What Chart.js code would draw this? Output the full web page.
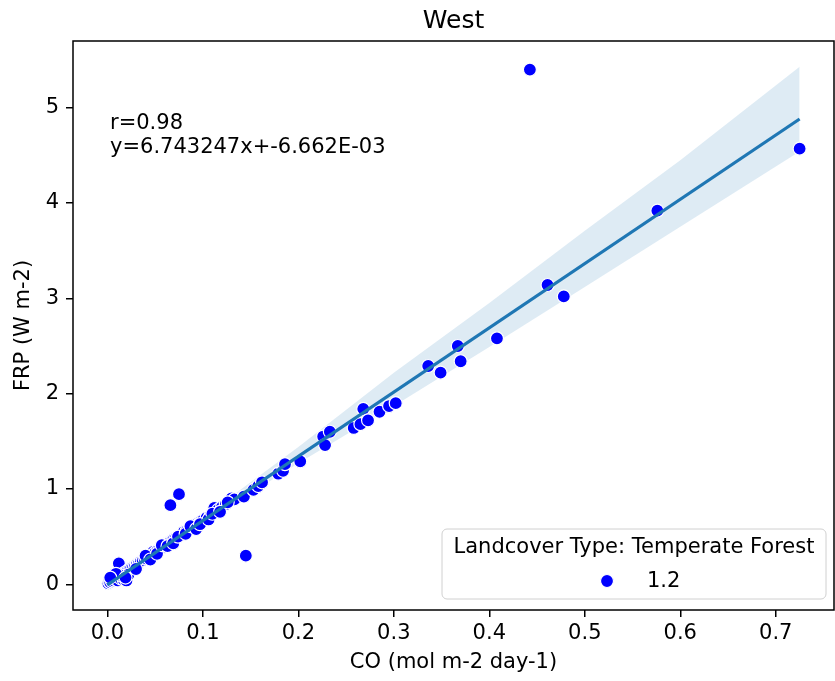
<!DOCTYPE html>
<html><head><meta charset="utf-8">
<script src="https://cdn.jsdelivr.net/npm/chart.js@4.4.1/dist/chart.umd.min.js"></script>
<style>html,body{margin:0;padding:0;background:#fff}#c{display:block}</style>
</head><body>
<canvas id="c" width="835" height="681"></canvas>
<script>
// ---- data ----
const pointsX = [0.001,0.002,0.003,0.004,0.005,0.006,0.007,0.008,0.009,0.010,0.011,0.012,0.013,0.014,
  0.016,0.017,0.018,0.020,0.021,0.023,0.025,0.027,0.029,
  0.031,0.033,0.035,0.037,0.039,0.041,0.043,0.046,0.048,0.050,
  0.053,0.055,0.058,0.060,0.062,0.064,0.066,0.068,0.070,0.072,
  0.075,0.078,0.080,0.083,0.086,0.088,0.090,0.092,0.095,0.098,0.100,
  0.104,0.108,0.112,0.112,0.116,0.120,0.124,0.128,0.130,0.133,
  0.015,0.022,0.030,0.040,0.045,0.052,0.057,0.063,0.069,0.074,0.082,0.087,0.093,0.097,0.106,0.110,0.118,0.126,0.009,0.003,0.019,
  0.143,0.153,0.158,0.162,0.179,0.184,0.186,0.202,0.226,0.228,0.233,0.258,0.265,0.268,0.273,0.285,
  0.295,0.302,0.336,0.349,0.367,0.370,0.408,0.4425,0.461,0.478,0.576,0.725,0.066,0.075,0.145];
const pointsY = [0.01,0.03,0.02,0.05,0.03,0.06,0.04,0.07,0.05,0.08,0.04,0.22,0.09,0.06,
  0.10,0.05,0.12,0.04,0.14,0.15,0.17,0.18,0.19,
  0.21,0.22,0.24,0.25,0.27,0.27,0.29,0.31,0.34,0.33,
  0.36,0.37,0.39,0.41,0.42,0.44,0.45,0.46,0.48,0.49,
  0.51,0.52,0.55,0.56,0.58,0.60,0.62,0.61,0.64,0.66,0.67,
  0.70,0.72,0.76,0.80,0.78,0.81,0.84,0.88,0.90,0.89,
  0.09,0.10,0.16,0.30,0.26,0.32,0.41,0.40,0.43,0.50,0.53,0.61,0.58,0.63,0.68,0.74,0.76,0.86,0.11,0.07,0.07,
  0.92,0.99,1.03,1.07,1.16,1.19,1.26,1.29,1.55,1.46,1.60,1.64,1.68,1.84,1.72,1.81,
  1.87,1.90,2.29,2.22,2.50,2.34,2.58,5.40,3.14,3.02,3.92,4.57,0.83,0.945,0.30];
const fitX = [0.0, 0.725];
const fitY = [-0.007, 4.882];
const bandX = [0.0, 0.1, 0.2, 0.3, 0.4, 0.5, 0.6, 0.725];
const bandUpper = [0.01, 0.70, 1.44, 2.22, 2.95, 3.71, 4.45, 5.43];
const bandLower = [-0.02, 0.64, 1.27, 1.87, 2.49, 3.12, 3.75, 4.54];
const xTicks = [0.0, 0.1, 0.2, 0.3, 0.4, 0.5, 0.6, 0.7];
const yTicks = [0, 1, 2, 3, 4, 5];
const titleText = 'West';
const xLabel = 'CO (mol m-2 day-1)';
const yLabel = 'FRP (W m-2)';
const annotLines = ['r=0.98', 'y=6.743247x+-6.662E-03'];
const legendTitle = 'Landcover Type: Temperate Forest';
const legendEntry = '1.2';

const zip = (xs, ys) => xs.map((x, i) => ({x, y: ys[i]}));

Chart.defaults.font.family = "'DejaVu Sans', sans-serif";
Chart.defaults.font.size = 21;
Chart.defaults.color = '#000';

const decor = {
  id: 'decor',
  afterDraw(chart) {
    const {ctx, chartArea: a} = chart;
    ctx.save();
    ctx.strokeStyle = '#000';
    ctx.lineWidth = 1.5;
    ctx.strokeRect(a.left, a.top, a.right - a.left, a.bottom - a.top);
    ctx.fillStyle = '#000';
    ctx.font = "25px 'DejaVu Sans'";
    ctx.textAlign = 'center';
    ctx.textBaseline = 'alphabetic';
    ctx.fillText(titleText, (a.left + a.right) / 2, 28);
    ctx.font = "21px 'DejaVu Sans'";
    ctx.textAlign = 'left';
    ctx.fillText(annotLines[0], a.left + 37, 129);
    ctx.fillText(annotLines[1], a.left + 37, 153);
    const lx = 442, ly = 529, lw = 384, lh = 70, r = 5;
    ctx.beginPath();
    ctx.moveTo(lx + r, ly);
    ctx.arcTo(lx + lw, ly, lx + lw, ly + lh, r);
    ctx.arcTo(lx + lw, ly + lh, lx, ly + lh, r);
    ctx.arcTo(lx, ly + lh, lx, ly, r);
    ctx.arcTo(lx, ly, lx + lw, ly, r);
    ctx.closePath();
    ctx.fillStyle = 'rgba(255,255,255,0.8)';
    ctx.fill();
    ctx.strokeStyle = '#d0d0d0';
    ctx.lineWidth = 1;
    ctx.stroke();
    ctx.fillStyle = '#000';
    ctx.textAlign = 'center';
    ctx.fillText(legendTitle, lx + lw / 2, 553);
    ctx.textAlign = 'left';
    ctx.fillText(legendEntry, 647, 587);
    ctx.beginPath();
    ctx.arc(607, 581, 6.5, 0, Math.PI * 2);
    ctx.fillStyle = '#0000ff';
    ctx.fill();
    ctx.strokeStyle = '#fff';
    ctx.lineWidth = 1.2;
    ctx.stroke();
    ctx.restore();
  }
};

new Chart(document.getElementById('c'), {
  type: 'scatter',
  data: {
    datasets: [
      { type: 'line', label: 'fit', data: zip(fitX, fitY), showLine: true,
        borderColor: '#1f77b4', borderWidth: 3.2, pointRadius: 0, fill: false, order: 0 },
      { label: legendEntry, data: zip(pointsX, pointsY),
        pointRadius: 6.5, pointBackgroundColor: '#0000ff', pointBorderColor: '#ffffff',
        pointBorderWidth: 1.2, order: 1 },
      { type: 'line', label: 'upper', data: zip(bandX, bandUpper), showLine: true,
        borderWidth: 0, borderColor: 'rgba(0,0,0,0)', pointRadius: 0,
        fill: '+1', backgroundColor: 'rgba(31,119,180,0.15)', order: 2 },
      { type: 'line', label: 'lower', data: zip(bandX, bandLower), showLine: true,
        borderWidth: 0, borderColor: 'rgba(0,0,0,0)', pointRadius: 0, fill: false, order: 3 }
    ]
  },
  options: {
    responsive: false,
    devicePixelRatio: 1,
    animation: false,
    layout: { autoPadding: false, padding: { top: 41, right: 1, left: 0, bottom: 0 } },
    plugins: { legend: { display: false }, tooltip: { enabled: false }, title: { display: false } },
    scales: {
      x: {
        type: 'linear', min: -0.036, max: 0.761,
        afterFit: s => { s.height = 71; s.paddingLeft = 0; s.paddingRight = 0; },
        afterBuildTicks: s => { s.ticks = xTicks.map(v => ({value: v})); },
        ticks: { padding: 4, callback: v => v.toFixed(1), maxRotation: 0, autoSkip: false },
        grid: { display: true, drawOnChartArea: false, drawTicks: true, tickLength: 7, color: '#000', lineWidth: 1.5 },
        border: { display: false },
        title: { display: true, text: xLabel, padding: { top: 0, bottom: 6 } }
      },
      y: {
        type: 'linear', min: -0.27, max: 5.70,
        afterFit: s => { s.width = 73; s.paddingTop = 0; s.paddingBottom = 0; },
        afterBuildTicks: s => { s.ticks = yTicks.map(v => ({value: v})); },
        ticks: { padding: 7, callback: v => String(v), autoSkip: false },
        grid: { display: true, drawOnChartArea: false, drawTicks: true, tickLength: 7, color: '#000', lineWidth: 1.5 },
        border: { display: false },
        title: { display: true, text: yLabel, padding: { top: 11, bottom: 0 } }
      }
    }
  },
  plugins: [decor]
});
</script>
</body></html>
